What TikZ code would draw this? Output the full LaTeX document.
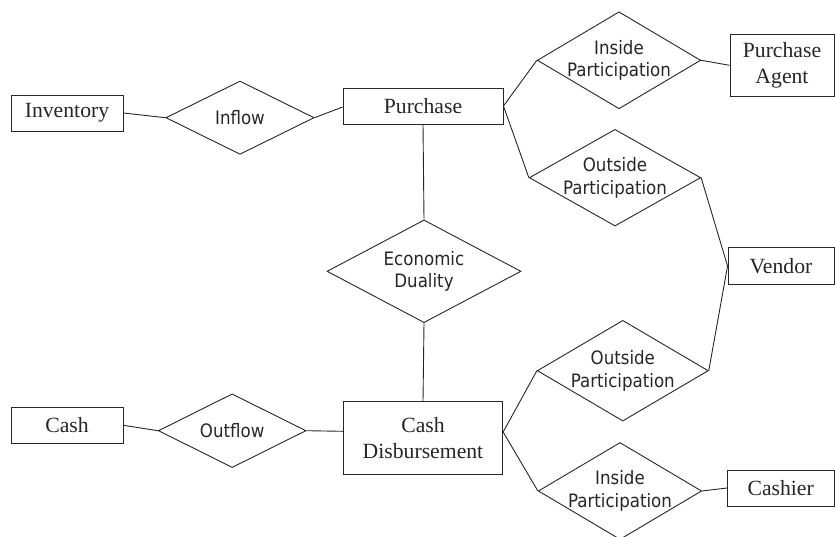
\documentclass[tikz,border=0pt]{standalone}
\usepackage{fontspec}
\setmainfont{Liberation Serif}
\newfontfamily\relfont{DejaVu Sans Condensed}
\usetikzlibrary{shapes.geometric,calc}
\begin{document}
\begin{tikzpicture}[x=1pt,y=-1pt,
  ent/.style={draw=black!85, line width=0.9pt, rectangle, inner sep=0pt,
    font=\fontsize{21.7}{26}\selectfont, align=center, text=black!85},
  rel/.style={draw=black!85, line width=0.9pt, diamond, inner sep=0pt},
  rtext/.style={inner sep=0pt, font=\relfont\fontsize{18.5}{22.5}\selectfont,
    align=center, text=black!85},
  conn/.style={draw=black!85, line width=0.9pt}]
\useasboundingbox (0,0) rectangle (835,536);

% entities
\node[ent, minimum width=112, minimum height=36] (inv) at (67,113) {Inventory};
\node[ent, minimum width=160, minimum height=36] (pur) at (423,106) {Purchase};
\node[ent, minimum width=104, minimum height=62.7] (pa) at (782,65.3) {Purchase\\Agent};
\node[ent, minimum width=106, minimum height=36.6] (ven) at (781,266) {Vendor};
\node[ent, minimum width=112, minimum height=36] (cash) at (67,425.3) {Cash};
\node[ent, minimum width=159.4, minimum height=72.6] (cd) at (423,438) {Cash\\Disbursement};
\node[ent, minimum width=106.7, minimum height=36] (cas) at (780.7,488) {Cashier};

% relationships
\node[rel, minimum width=148.3, minimum height=73.3,
  label={[rtext,name=inflowt]center:Inflow}] (inflow) at (240,117.7) {};
\node[rel, minimum width=163.4, minimum height=97,
  label={[rtext,name=ip1t]center:Inside\\Participation}] (ip1) at (619,60.3) {};
\node[rel, minimum width=171.4, minimum height=96.7,
  label={[rtext,name=op1t]center:Outside\\Participation}] (op1) at (615,177.7) {};
\node[rel, minimum width=194, minimum height=102.7,
  label={[rtext,name=edt]center:Economic\\Duality}] (ed) at (424,271.3) {};
\node[rel, minimum width=171, minimum height=100.7,
  label={[rtext,name=op2t]center:Outside\\Participation}] (op2) at (622.8,370.7) {};
\node[rel, minimum width=163.4, minimum height=97,
  label={[rtext,name=ip2t]center:Inside\\Participation}] (ip2) at (620,491) {};
\node[rel, minimum width=147.7, minimum height=73.7,
  label={[rtext,name=outflowt]center:Outflow}] (outflow) at (232.2,430.7) {};

% connectors
\draw[conn] (inv.east) -- (inflow.west);
\draw[conn] (inflow.east) -- ($(pur.west)+(0,1)$);
\draw[conn] (pur.south) -- (ed.north);
\draw[conn] (ed.south) -- (cd.north);
\draw[conn] (pur.east) -- (ip1.west);
\draw[conn] (pur.east) -- (op1.west);
\draw[conn] (ip1.east) -- (pa.west);
\draw[conn] (op1.east) -- (ven.west);
\draw[conn] (op2.east) -- (ven.west);
\draw[conn] ($(cd.east)+(0,-6)$) -- (op2.west);
\draw[conn] ($(cd.east)+(0,-6)$) -- (ip2.west);
\draw[conn] (ip2.east) -- (cas.west);
\draw[conn] (cash.east) -- (outflow.west);
\draw[conn] (outflow.east) -- ($(cd.west)+(0,-6.7)$);
\end{tikzpicture}
\end{document}
